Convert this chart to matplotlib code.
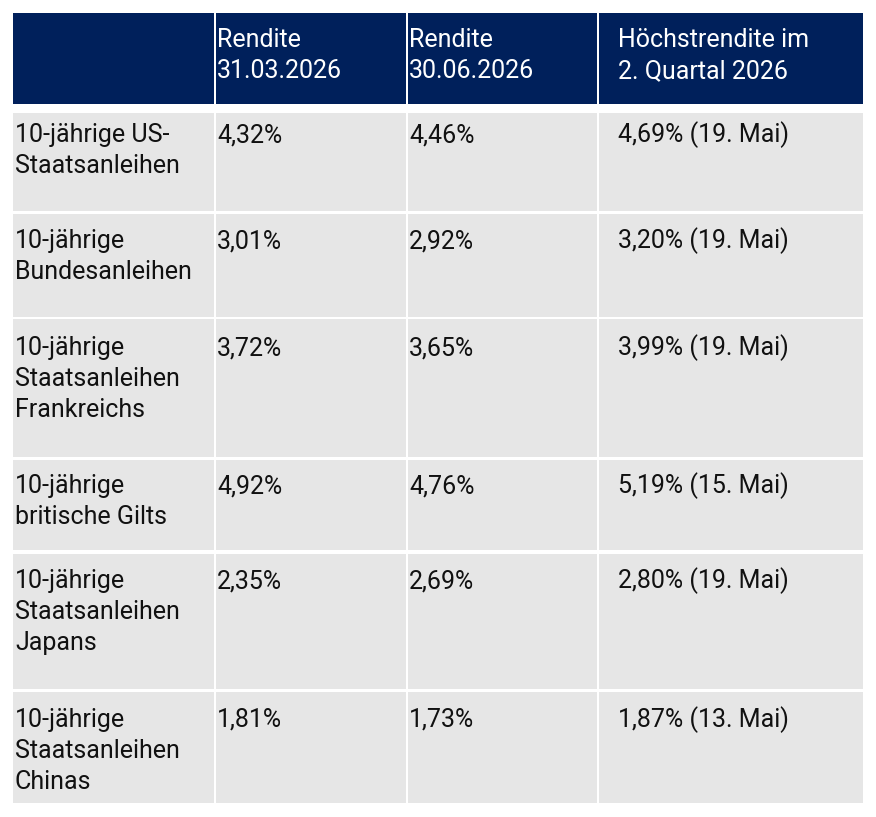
import matplotlib
matplotlib.use('Agg')
import matplotlib.pyplot as plt
from matplotlib.patches import Rectangle

# table content
header = ["", "Rendite\n31.03.2026", "Rendite\n30.06.2026", "Höchstrendite im\n2. Quartal 2026"]
bonds = [
    "10-jährige US-\nStaatsanleihen",
    "10-jährige\nBundesanleihen",
    "10-jährige\nStaatsanleihen\nFrankreichs",
    "10-jährige\nbritische Gilts",
    "10-jährige\nStaatsanleihen\nJapans",
    "10-jährige\nStaatsanleihen\nChinas",
]
yield_q1 = ["4,32%", "3,01%", "3,72%", "4,92%", "2,35%", "1,81%"]
yield_q2 = ["4,46%", "2,92%", "3,65%", "4,76%", "2,69%", "1,73%"]
peak = ["4,69% (19. Mai)", "3,20% (19. Mai)", "3,99% (19. Mai)",
        "5,19% (15. Mai)", "2,80% (19. Mai)", "1,87% (13. Mai)"]

# layout in pixels
W, H = 876, 817
col_edges = [(13, 214), (216, 406), (408, 597), (599, 863)]
text_x = [15, 217, 409, 618]
head_box = (13, 104)
head_base = 47
row_boxes = [(113, 211), (214, 317), (319, 457), (460, 550), (554, 689), (692, 803)]
row_base = [142, 248, 355, 493, 588, 727]
line_h = 31

NAVY = "#00205B"
GREY = "#E6E6E6"
FS = 18

plt.rcParams['font.family'] = ['Roboto', 'DejaVu Sans']

fig = plt.figure(figsize=(W / 100, H / 100), dpi=100)
ax = fig.add_axes([0, 0, 1, 1])
ax.set_xlim(0, W)
ax.set_ylim(H, 0)
ax.axis('off')


def cell(col, top, bottom, color, text, base, tcolor):
    x0, x1 = col_edges[col]
    ax.add_patch(Rectangle((x0, top), x1 - x0, bottom - top, facecolor=color,
                           edgecolor='none'))
    for i, line in enumerate(text.split("\n")):
        if line:
            ax.text(text_x[col], base + i * line_h, line, fontsize=FS,
                    color=tcolor, va='baseline', ha='left')


for c, h in enumerate(header):
    cell(c, head_box[0], head_box[1], NAVY, h, head_base, "white")

for r in range(len(bonds)):
    top, bottom = row_boxes[r]
    vals = [bonds[r], yield_q1[r], yield_q2[r], peak[r]]
    for c, v in enumerate(vals):
        cell(c, top, bottom, GREY, v, row_base[r], "#111111")

fig.savefig("out.png", dpi=100, facecolor="white")
